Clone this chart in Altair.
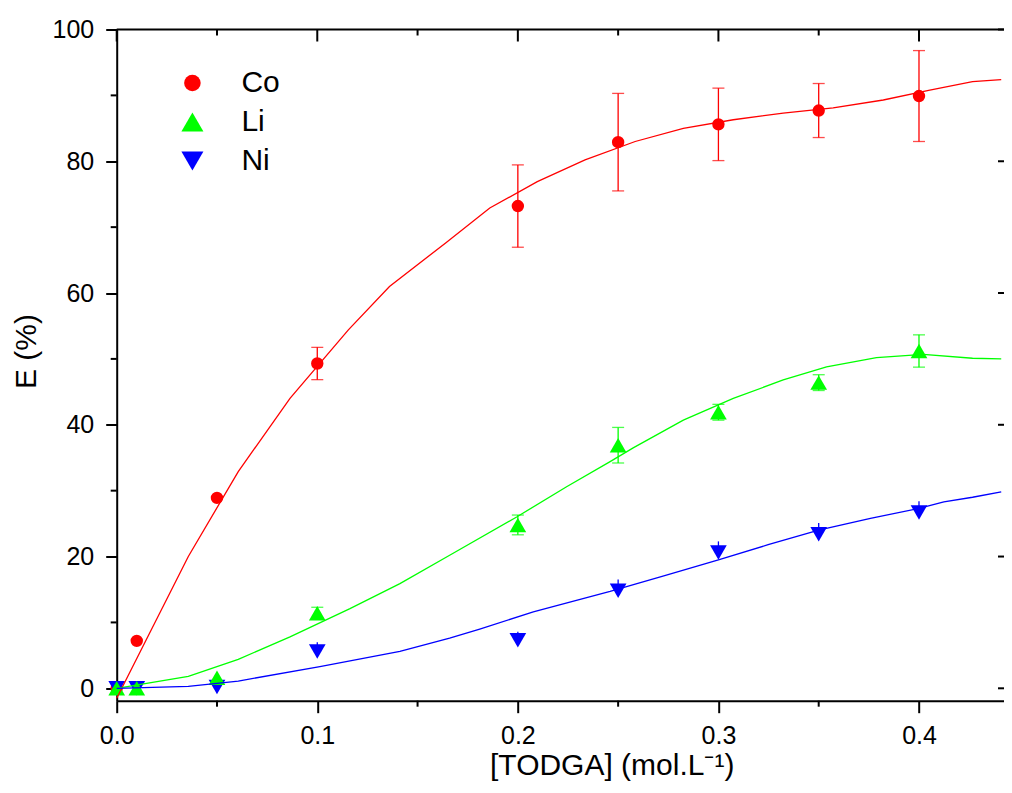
import altair as alt
import pandas as pd

# ---------------- data ----------------
series_names = ["Co", "Li", "Ni"]
series_colors = ["#FF0000", "#00FF00", "#0000FF"]
series_shapes = ["circle", "triangle-up", "triangle-down"]

todga = [0.0, 0.01, 0.05, 0.1, 0.2, 0.25, 0.3, 0.35, 0.4]
co_e = [0.0, 7.2, 28.9, 49.3, 73.2, 82.9, 85.6, 87.7, 89.9]
co_err = [0, 0, 0, 2.45, 6.25, 7.4, 5.5, 4.1, 6.9]
li_e = [0.0, 0.0, 1.6, 11.4, 24.8, 36.9, 41.9, 46.4, 51.2]
li_err = [0, 0, 0, 0.9, 1.5, 2.7, 1.2, 1.2, 2.45]
ni_e = [0.0, 0.0, 0.2, 5.6, 7.3, 14.8, 20.6, 23.4, 26.7]
ni_err = [0, 0, 0, 1.4, 1.3, 1.7, 1.7, 1.7, 1.7]

co_fit_x = [0.0, 0.0357, 0.0606, 0.0864, 0.1155, 0.136, 0.164, 0.186, 0.2097, 0.2335,
            0.2585, 0.2825, 0.3074, 0.3323, 0.3572, 0.3822, 0.4054, 0.4267, 0.441]
co_fit_y = [-1.5, 20.0, 32.9, 44.0, 54.4, 61.0, 67.6, 72.9, 76.9, 80.2,
            83.0, 85.0, 86.3, 87.3, 88.1, 89.3, 90.8, 92.1, 92.4]
li_fit_x = [0.0, 0.0357, 0.0606, 0.0864, 0.1163, 0.1412, 0.166, 0.1994, 0.2243, 0.246,
            0.2575, 0.2825, 0.3074, 0.3323, 0.3539, 0.3788, 0.4021, 0.4267, 0.441]
li_fit_y = [0.0, 1.8, 4.4, 7.8, 12.1, 15.9, 20.2, 26.0, 30.6, 34.4,
            36.5, 40.7, 44.0, 46.8, 48.8, 50.2, 50.7, 50.1, 50.0]
ni_fit_x = [0.0, 0.0357, 0.0606, 0.1013, 0.1412, 0.166, 0.181, 0.2077, 0.246, 0.2732,
            0.3, 0.3248, 0.35, 0.3758, 0.4, 0.4124, 0.4267, 0.441]
ni_fit_y = [0.0, 0.3, 1.1, 3.3, 5.6, 7.6, 9.0, 11.6, 14.7, 17.1,
            19.5, 21.8, 24.0, 25.8, 27.3, 28.3, 29.0, 29.8]

x_major = [0.0, 0.1, 0.2, 0.3, 0.4]
x_minor = [0.05, 0.15, 0.25, 0.35]
y_major = [0, 20, 40, 60, 80, 100]
y_minor = [10, 30, 50, 70, 90]

# error bars drawn in both directions with caps (Co, Li) or only upward, no cap (Ni)
two_sided = {"Co": True, "Li": True, "Ni": False}

# ---------------- tables ----------------
rows = []
for name, ys_, es_ in [("Co", co_e, co_err), ("Ni", ni_e, ni_err), ("Li", li_e, li_err)]:
    for xv, yv, ev in zip(todga, ys_, es_):
        lo = yv - ev if two_sided[name] else yv
        rows.append({"series": name, "x": xv, "y": yv, "err": ev, "lo": lo, "hi": yv + ev})
pts = pd.DataFrame(rows)
errs = pts[pts["err"] > 0]

fit_data = {"Co": (co_fit_x, co_fit_y), "Li": (li_fit_x, li_fit_y), "Ni": (ni_fit_x, ni_fit_y)}

xmaj = pd.DataFrame({"v": x_major})
xmin = pd.DataFrame({"v": x_minor})
ymaj = pd.DataFrame({"v": y_major})
ymin = pd.DataFrame({"v": y_minor})
one = pd.DataFrame({"v": [0]})

# ---------------- layout ----------------
W = 887.3
H = 671.2
FONT = "Liberation Sans"

xs = alt.Scale(domain=[0, 0.44238], nice=False, zero=False)
ys = alt.Scale(domain=[-1.88, 100], nice=False, zero=False)
cs = alt.Scale(domain=series_names, range=series_colors)
ss = alt.Scale(domain=series_names, range=series_shapes)

x_axis = alt.Axis(values=x_major, format=".1f", title="[TODGA] (mol.L\u207b\u00b9)",
                  grid=False, tickSize=12, tickWidth=2, tickColor="black",
                  domainWidth=2, domainColor="black", labelPadding=11,
                  labelFontSize=25, labelColor="black", labelFlush=False, labelOverlap=False,
                  titleFontSize=30, titleFontWeight="normal", titleColor="black",
                  titleX=495, titleY=74, titleBaseline="alphabetic", titleAlign="center")
y_axis = alt.Axis(values=y_major, format="d", title="E (%)",
                  grid=False, tickSize=11, tickWidth=2, tickColor="black",
                  domainWidth=2, domainColor="black", labelPadding=12,
                  labelFontSize=25, labelColor="black", labelFlush=False, labelOverlap=False,
                  titleFontSize=30, titleFontWeight="normal", titleColor="black",
                  titleX=-81, titleY=321.5, titleAngle=-90, titleBaseline="alphabetic",
                  titleAlign="center")

leg = alt.Legend(orient="none", legendX=60.7, legendY=38.5, title=None,
                 labelFontSize=30, labelFont=FONT, labelColor="black",
                 labelOffset=34, rowPadding=9, padding=0,
                 symbolStrokeWidth=0, symbolOpacity=1)


def X(field):
    return alt.X(field, scale=xs, axis=x_axis)


def Y(field):
    return alt.Y(field, scale=ys, axis=y_axis)


legend_layer = alt.Chart(pts).transform_filter("datum.x < 0").mark_point(filled=True).encode(
    x=X("x:Q"), y=Y("y:Q"),
    color=alt.Color("series:N", scale=cs, legend=leg),
    shape=alt.Shape("series:N", scale=ss, legend=leg),
    size=alt.Size("series:N", scale=alt.Scale(type="ordinal", domain=series_names,
                                              range=[275, 484, 484]), legend=leg),
)

points = alt.Chart(pts).mark_point(filled=True, opacity=1, strokeWidth=0).encode(
    x=X("x:Q"), y=Y("y:Q"),
    color=alt.Color("series:N", scale=cs, legend=leg),
    shape=alt.Shape("series:N", scale=ss, legend=leg),
    size=alt.condition("datum.series === 'Co'", alt.value(154), alt.value(279)),
)

series_layers = []
for name, col in zip(series_names, series_colors):
    e = errs[errs["series"] == name]
    fx, fy = fit_data[name]
    f = pd.DataFrame({"x": fx, "y": fy, "order": list(range(len(fx)))})
    series_layers.append(alt.Chart(e).mark_rule(strokeWidth=1.3, color=col).encode(
        x=X("x:Q"), y=Y("lo:Q"), y2="hi:Q"))
    if two_sided[name]:
        series_layers.append(alt.Chart(e).mark_tick(orient="horizontal", size=12, thickness=1.3,
                                                    color=col).encode(x=X("x:Q"), y=Y("lo:Q")))
        series_layers.append(alt.Chart(e).mark_tick(orient="horizontal", size=12, thickness=1.3,
                                                    color=col).encode(x=X("x:Q"), y=Y("hi:Q")))
    series_layers.append(alt.Chart(f).mark_line(strokeWidth=1.3, color=col).encode(
        x=X("x:Q"), y=Y("y:Q"), order="order:Q"))

tick_style = dict(color="black", strokeWidth=2)
top_line = alt.Chart(one).mark_rule(**tick_style).encode(
    x=alt.value(0), x2=alt.value(W), y=alt.value(0))
top_major = alt.Chart(xmaj).mark_rule(**tick_style).encode(
    x=X("v:Q"), y=alt.value(0), y2=alt.value(12))
top_minor = alt.Chart(xmin).mark_rule(**tick_style).encode(
    x=X("v:Q"), y=alt.value(0), y2=alt.value(6))
bottom_minor = alt.Chart(xmin).mark_rule(**tick_style).encode(
    x=X("v:Q"), y=alt.value(H), y2=alt.value(H + 6))
left_minor = alt.Chart(ymin).mark_rule(**tick_style).encode(
    y=Y("v:Q"), x=alt.value(0), x2=alt.value(-6))
right_major = alt.Chart(ymaj).mark_rule(**tick_style).encode(
    y=Y("v:Q"), x=alt.value(W - 6), x2=alt.value(W))

chart = alt.layer(
    points, *series_layers, legend_layer,
    top_line, top_major, top_minor, bottom_minor, left_minor, right_major,
).properties(
    width=W, height=H,
    autosize=alt.AutoSizeParams(type="none"),
    padding={"left": 108.7, "top": 21.5, "right": 0, "bottom": 82},
).configure_view(stroke=None).configure_axis(labelFont=FONT, titleFont=FONT)

chart.save("out.html", embed_options={"renderer": "svg", "actions": False})
